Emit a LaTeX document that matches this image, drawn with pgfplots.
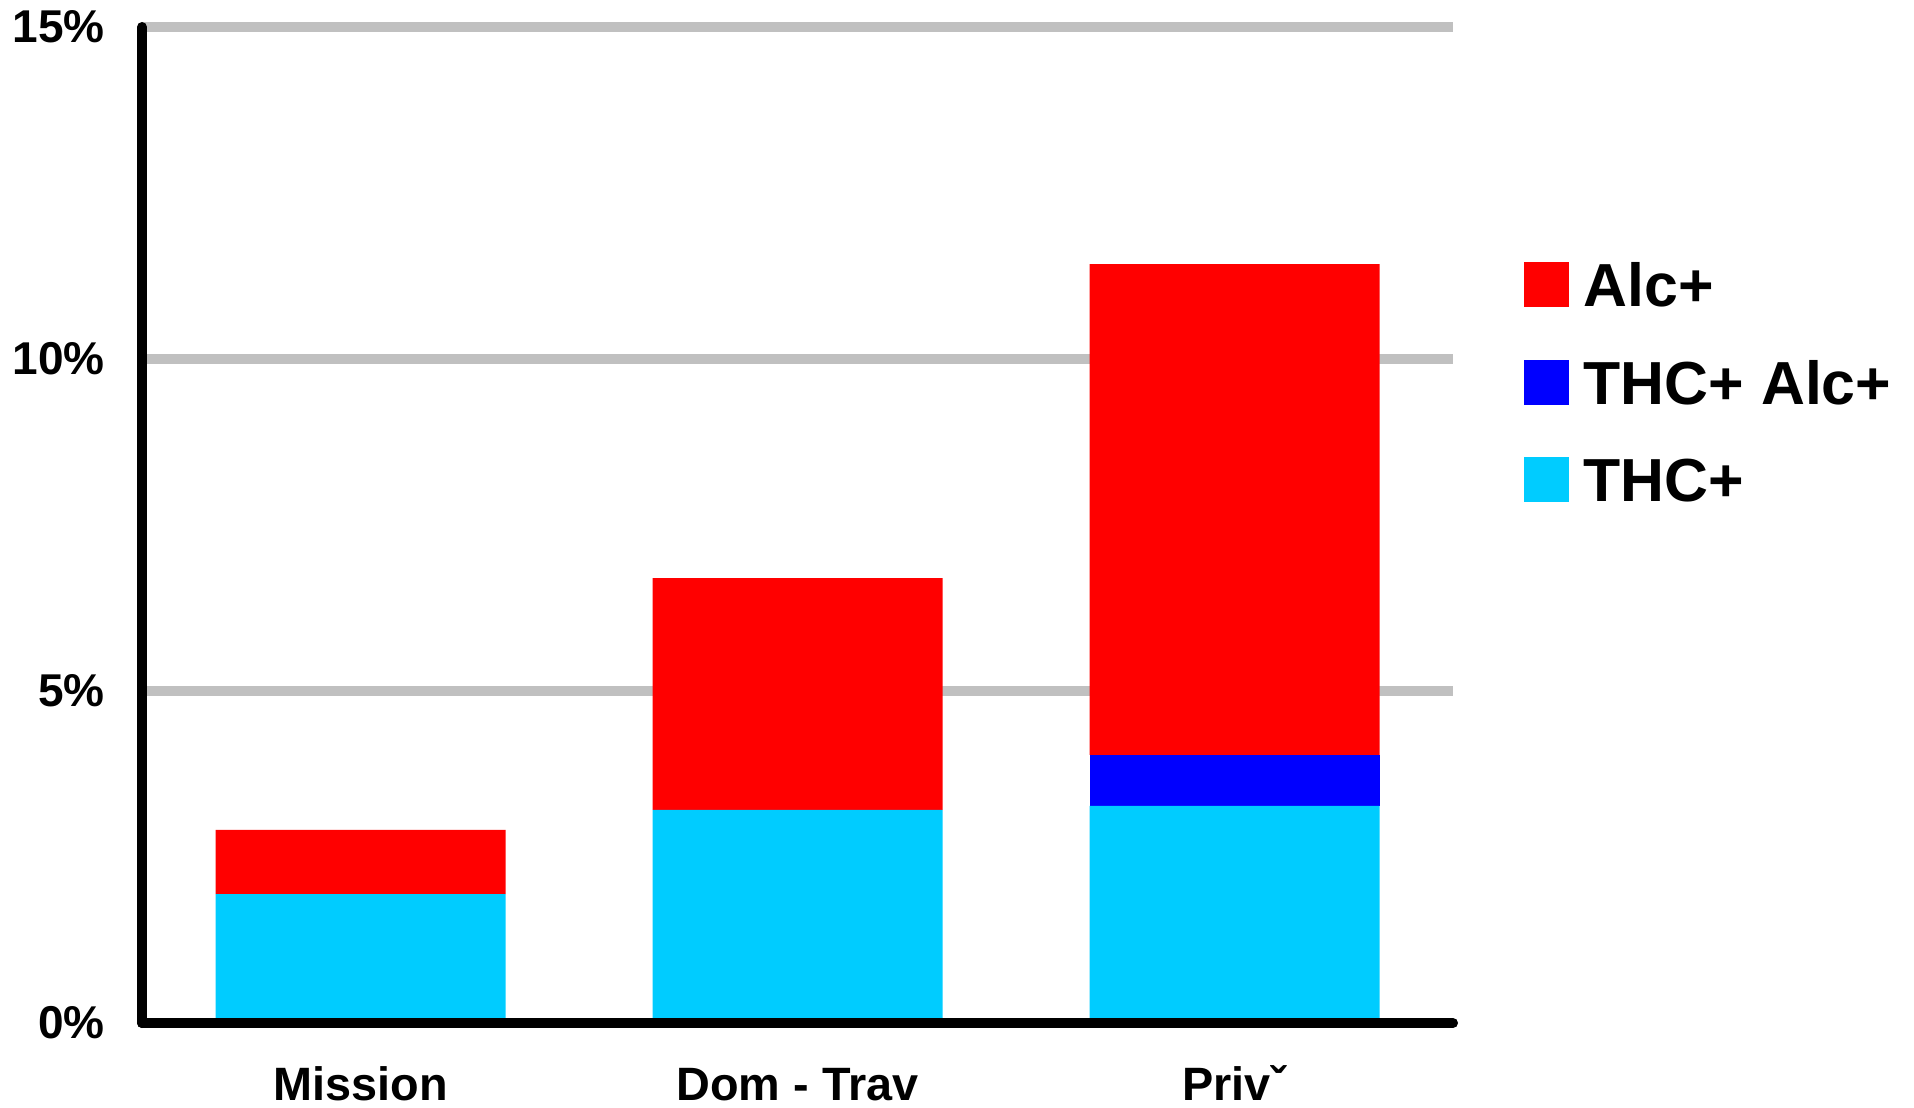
\documentclass[border=0pt]{standalone}
\usepackage{pgfplots}
\pgfplotsset{compat=1.18}
\usepackage{fontspec}
\setmainfont{Liberation Sans}
\definecolor{alcred}{HTML}{FF0000}
\definecolor{bothblue}{HTML}{0000FF}
\definecolor{thccyan}{HTML}{00CCFF}
\definecolor{gridgray}{HTML}{C0C0C0}
\pgfplotsset{
  layers/mylayers/.define layer set={
    axis background,axis grid,main,axis ticks,axis lines,axis tick labels,axis descriptions,axis foreground
  }{
    grid style={/pgfplots/on layer=axis grid},
    tick style={/pgfplots/on layer=axis ticks},
    axis line style={/pgfplots/on layer=axis lines},
    label style={/pgfplots/on layer=axis descriptions},
    legend style={/pgfplots/on layer=axis descriptions},
    title style={/pgfplots/on layer=axis descriptions},
    ticklabel style={/pgfplots/on layer=axis tick labels},
    axis background@ style={/pgfplots/on layer=axis background},
    3d box foreground style={/pgfplots/on layer=axis foreground},
  },
}
\begin{document}
\begin{tikzpicture}
\begin{axis}[
  set layers=mylayers,
  scale only axis,
  width=327.75pt, height=249pt,
  at={(0pt,0pt)}, anchor=south west,
  ybar stacked,
  bar width=72.5pt,
  xmin=-0.5, xmax=2.5,
  ymin=0, ymax=15,
  axis x line=bottom, axis y line=left,
  axis line style={-, line width=2.5pt, line cap=round, black},
  major tick length=0pt,
  xtick={0,1,2},
  xticklabels={Mission, Dom - Trav, Privˇ},
  ytick={0,5,10,15},
  yticklabels={0\%,5\%,10\%,15\%},
  ymajorgrids,
  grid style={line width=2.4pt, gridgray},
  ticklabel style={font=\bfseries\fontsize{11.5pt}{13pt}\selectfont},
  yticklabel style={anchor=east, xshift=-5.8pt},
  xticklabel style={anchor=base, yshift=-19.4pt, font=\bfseries\fontsize{11.7pt}{13pt}\selectfont},
  reverse legend,
  legend style={
    at={(rel axis cs:1.0534,0.765)}, anchor=north west,
    draw=none, fill=none, inner sep=0pt,
    font=\bfseries\fontsize{15.2pt}{18pt}\selectfont,
    row sep=13.2pt,
    nodes={inner sep=0pt, text depth=0pt},
  },
  legend cell align=left,
]
\addplot[fill=thccyan, draw=none,
  legend image code/.code={\fill[thccyan] (0pt,-5.625pt) rectangle (11.25pt,5.625pt); \path (15pt,0pt);}]
  coordinates {(0,1.94) (1,3.21) (2,3.27)};
\addlegendentry{THC+}
\addplot[fill=bothblue, draw=none,
  legend image code/.code={\fill[bothblue] (0pt,-5.625pt) rectangle (11.25pt,5.625pt); \path (15pt,0pt);}]
  coordinates {(0,0) (1,0) (2,0.77)};
\addlegendentry{THC+ Alc+}
\addplot[fill=alcred, draw=none,
  legend image code/.code={\fill[alcred] (0pt,-5.625pt) rectangle (11.25pt,5.625pt); \path (15pt,0pt);}]
  coordinates {(0,0.97) (1,3.49) (2,7.39)};
\addlegendentry{Alc+}
\end{axis}
\pgfresetboundingbox
\path (-35.5pt,-21pt) rectangle (443pt,255.75pt);
\end{tikzpicture}
\end{document}
